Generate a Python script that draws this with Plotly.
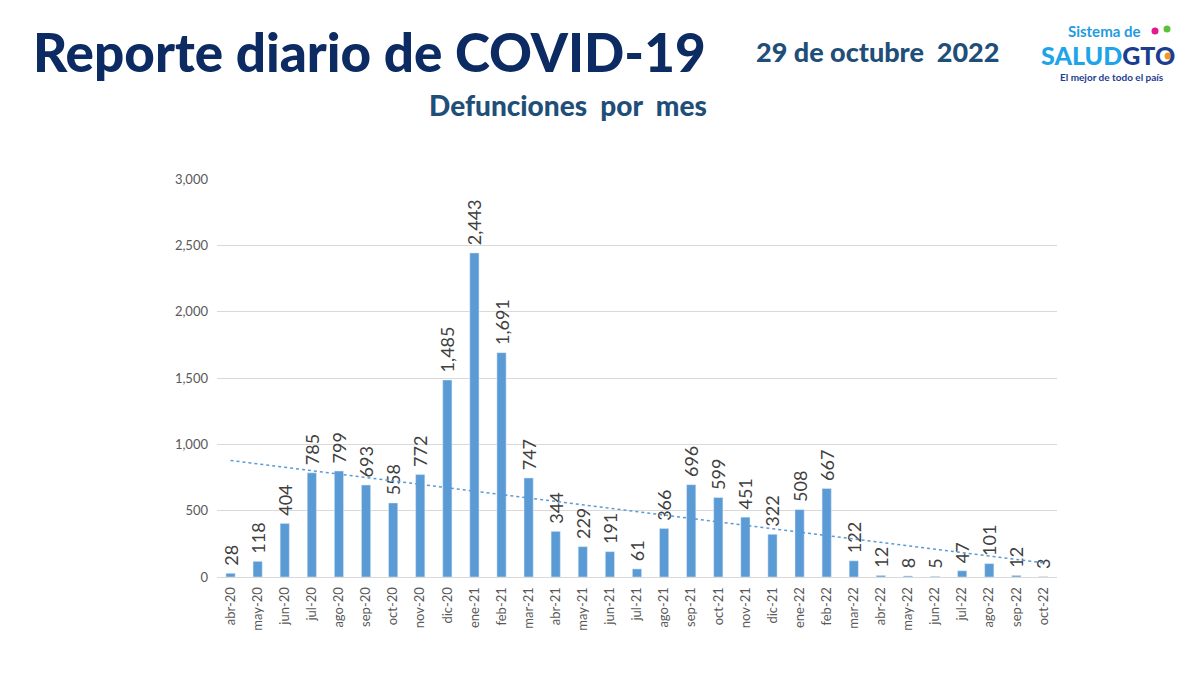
import numpy as np
import plotly.graph_objects as go

months = ["abr-20", "may-20", "jun-20", "jul-20", "ago-20", "sep-20", "oct-20", "nov-20", "dic-20",
          "ene-21", "feb-21", "mar-21", "abr-21", "may-21", "jun-21", "jul-21", "ago-21", "sep-21",
          "oct-21", "nov-21", "dic-21", "ene-22", "feb-22", "mar-22", "abr-22", "may-22", "jun-22",
          "jul-22", "ago-22", "sep-22", "oct-22"]
deaths = [28, 118, 404, 785, 799, 693, 558, 772, 1485, 2443, 1691, 747, 344, 229, 191, 61, 366, 696,
          599, 451, 322, 508, 667, 122, 12, 8, 5, 47, 101, 12, 3]
y_ticks = [0, 500, 1000, 1500, 2000, 2500, 3000]

idx = np.arange(len(deaths))
slope, intercept = np.polyfit(idx, deaths, 1)
trend = slope * idx + intercept

fig = go.Figure()
fig.add_trace(go.Bar(
    x=months, y=deaths, marker_color="#5b9bd5",
    text=["\u00a0" + f"{v:,}" for v in deaths], textposition="outside", textangle=-90,
    constraintext="none",
    textfont=dict(family="Lato", size=18, color="#404040"), cliponaxis=False,
))
fig.add_trace(go.Scatter(
    x=months, y=trend, mode="lines",
    line=dict(color="#5b9bd5", width=1.5, dash="dot"), hoverinfo="skip",
))

fig.update_layout(
    width=1200, height=675, showlegend=False,
    paper_bgcolor="white", plot_bgcolor="white",
    margin=dict(l=217, r=143, t=179, b=98),
    bargap=0.66,
    font=dict(family="Lato"),
)
fig.update_xaxes(tickangle=-90, tickfont=dict(size=13, color="#595959"),
                 showline=True, linecolor="#d9d9d9", linewidth=1, ticks="",
                 ticklabelstandoff=4)
fig.update_yaxes(range=[0, 3000], tickvals=y_ticks, tickformat=",",
                 tickfont=dict(size=13, color="#595959"), gridcolor="#d9d9d9",
                 zeroline=False, ticks="", ticklen=0, ticklabelstandoff=8)


def px(xp):
    return (xp - 217) / 840


def py(yp):
    return (675 - yp - 98) / 398


# Titles
fig.add_annotation(xref="paper", yref="paper", x=px(31), y=py(52),
                   xanchor="left", yanchor="middle", showarrow=False,
                   text="Reporte diario de COVID-19",
                   font=dict(family="Lato", size=53, weight=900, color="#0d2b63"))
fig.add_annotation(xref="paper", yref="paper", x=px(1001), y=py(52),
                   xanchor="right", yanchor="middle", showarrow=False,
                   text="29 de octubre  2022",
                   font=dict(family="Lato", size=27, weight=900, color="#1f4e79"))
fig.add_annotation(xref="paper", yref="paper", x=px(709), y=py(105),
                   xanchor="right", yanchor="middle", showarrow=False,
                   text="Defunciones  por  mes",
                   font=dict(family="Lato", size=28, weight=900, color="#1f4e79"))

# Logo
fig.add_annotation(xref="paper", yref="paper", x=px(1104), y=py(31), xanchor="center", yanchor="middle",
                   showarrow=False, text="<b>Sistema de</b>",
                   font=dict(family="Lato", size=15, color="#1e9be0"))
fig.add_annotation(xref="paper", yref="paper", x=px(1108), y=py(55), xanchor="center", yanchor="middle",
                   showarrow=False,
                   text="<span style='color:#1ea5e8'>SALUD</span><span style='color:#1b3d8f'>GTO</span>",
                   font=dict(family="Lato", size=25, weight=900))
fig.add_annotation(xref="paper", yref="paper", x=px(1112), y=py(77), xanchor="center", yanchor="middle",
                   showarrow=False, text="<b>El mejor de todo el país</b>",
                   font=dict(family="Lato", size=10, color="#1b3d8f"))
for cx, cy, col in [(1155, 31, "#e3198c"), (1167, 29, "#5cc13a"), (1168, 56, "#f39a1e")]:
    fig.add_shape(type="circle", xref="paper", yref="paper",
                  x0=px(cx - 3.5), x1=px(cx + 3.5), y0=py(cy + 3.5), y1=py(cy - 3.5),
                  fillcolor=col, line=dict(width=0))

fig.write_html("out.html", post_script="document.body.style.margin='0';",
               config={"displayModeBar": False})
